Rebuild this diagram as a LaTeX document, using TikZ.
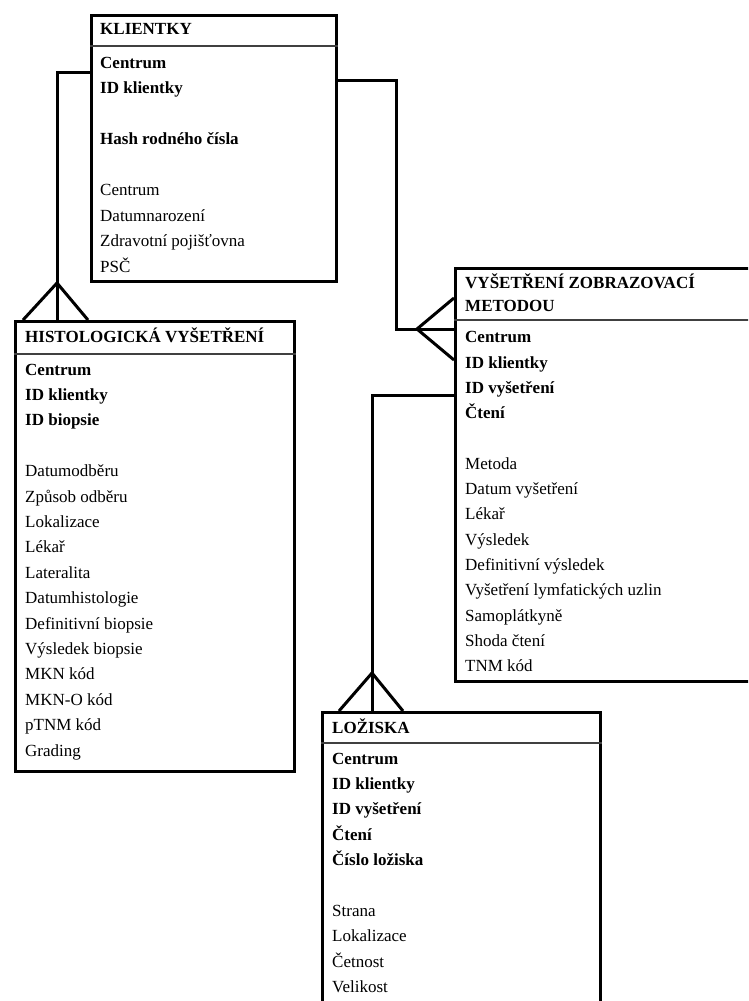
\documentclass[tikz,border=0pt]{standalone}
\usepackage{fontspec}
\setmainfont{Liberation Serif}
\begin{document}
\begin{tikzpicture}[x=1pt,y=-1pt,
  entity/.style={draw, line width=3pt, fill=white, inner sep=0pt, anchor=north west},
  divider/.style={line width=1.3pt, black!75},
  link/.style={line width=3pt},
  ttl/.style={anchor=base west, inner sep=0pt, font=\fontsize{17}{20}\selectfont\bfseries},
  keyf/.style={anchor=base west, inner sep=0pt, font=\fontsize{17}{20}\selectfont\bfseries},
  attr/.style={anchor=base west, inner sep=0pt, font=\fontsize{17}{20}\selectfont}]
\useasboundingbox (0,0) rectangle (748,1001);
\clip (0,0) rectangle (748,1001);
\fill[white] (0,0) rectangle (748,1001);

% entity boxes
\node[entity, minimum width=245pt, minimum height=266.5pt] (klientky) at (90,13.5) {};
\node[entity, minimum width=279pt, minimum height=450pt] (histo) at (14,320) {};
\node[entity, minimum width=330pt, minimum height=413pt] (zobr) at (454,267) {};
\node[entity, minimum width=278pt, minimum height=320pt] (lozisko) at (321,711) {};

% header dividers
\coordinate (dk) at (0,46);
\coordinate (dh) at (0,354);
\coordinate (dz) at (0,320);
\coordinate (dl) at (0,743);
\draw[divider] (klientky.west |- dk) -- (klientky.east |- dk);
\draw[divider] (histo.west |- dh) -- (histo.east |- dh);
\draw[divider] (zobr.west |- dz) -- (zobr.east |- dz);
\draw[divider] (lozisko.west |- dl) -- (lozisko.east |- dl);

% connector KLIENTKY -- HISTOLOGICKA
\coordinate (c1) at (57,72);
\coordinate (c1x) at (57,283);
\coordinate (c1l) at (23,0);
\coordinate (c1r) at (88,0);
\draw[link] (klientky.west |- c1) -- (c1) -- (histo.north -| c1);
\draw[link] (histo.north -| c1l) -- (c1x) -- (histo.north -| c1r);

% connector KLIENTKY -- VYSETRENI ZOBRAZOVACI METODOU
\coordinate (c2a) at (396,80);
\coordinate (c2b) at (396,329);
\coordinate (c2x) at (417,329);
\coordinate (c2u) at (0,298);
\coordinate (c2d) at (0,360);
\draw[link] (klientky.east |- c2a) -- (c2a) -- (c2b) -- (zobr.west |- c2b);
\draw[link] (zobr.west |- c2u) -- (c2x) -- (zobr.west |- c2d);

% connector VYSETRENI -- LOZISKA
\coordinate (c3a) at (372,395);
\coordinate (c3x) at (372,673);
\coordinate (c3l) at (339,0);
\coordinate (c3r) at (403,0);
\draw[link] (zobr.west |- c3a) -- (c3a) -- (lozisko.north -| c3a);
\draw[link] (lozisko.north -| c3l) -- (c3x) -- (lozisko.north -| c3r);

% KLIENTKY texts
\node[ttl]  (kt) at (100,34) {KLIENTKY};
\node[keyf] (k1) at (100,68) {Centrum};
\node[keyf] (k2) at (100,93.5) {ID klientky};
\node[keyf] (k3) at (100,144.5) {Hash rodného čísla};
\node[attr] (k4) at (100,195.5) {Centrum};
\node[attr] (k5) at (100,221) {Datumnarození};
\node[attr] (k6) at (100,246.5) {Zdravotní pojišťovna};
\node[attr] (k7) at (100,272) {PSČ};

% HISTOLOGICKA texts
\node[ttl]  (ht) at (25,342) {HISTOLOGICKÁ VYŠETŘENÍ};
\node[keyf] (h1) at (25,375) {Centrum};
\node[keyf] (h2) at (25,400.4) {ID klientky};
\node[keyf] (h3) at (25,425.8) {ID biopsie};
\node[attr] (h4) at (25,476.6) {Datumodběru};
\node[attr] (h5) at (25,502) {Způsob odběru};
\node[attr] (h6) at (25,527.4) {Lokalizace};
\node[attr] (h7) at (25,552.8) {Lékař};
\node[attr] (h8) at (25,578.2) {Lateralita};
\node[attr] (h9) at (25,603.6) {Datumhistologie};
\node[attr] (h10) at (25,629) {Definitivní biopsie};
\node[attr] (h11) at (25,654.4) {Výsledek biopsie};
\node[attr] (h12) at (25,679.8) {MKN kód};
\node[attr] (h13) at (25,705.2) {MKN-O kód};
\node[attr] (h14) at (25,730.6) {pTNM kód};
\node[attr] (h15) at (25,756) {Grading};

% VYSETRENI ZOBRAZOVACI METODOU texts
\node[ttl]  (zt1) at (465,288) {VYŠETŘENÍ ZOBRAZOVACÍ};
\node[ttl]  (zt2) at (465,311.7) {METODOU};
\node[keyf] (z1) at (465,342.7) {Centrum};
\node[keyf] (z2) at (465,368) {ID klientky};
\node[keyf] (z3) at (465,393.3) {ID vyšetření};
\node[keyf] (z4) at (465,418.6) {Čtení};
\node[attr] (z5) at (465,469.2) {Metoda};
\node[attr] (z6) at (465,494.5) {Datum vyšetření};
\node[attr] (z7) at (465,519.8) {Lékař};
\node[attr] (z8) at (465,545.1) {Výsledek};
\node[attr] (z9) at (465,570.4) {Definitivní výsledek};
\node[attr] (z10) at (465,595.7) {Vyšetření lymfatických uzlin};
\node[attr] (z11) at (465,621) {Samoplátkyně};
\node[attr] (z12) at (465,646.3) {Shoda čtení};
\node[attr] (z13) at (465,671.6) {TNM kód};

% LOZISKA texts
\node[ttl]  (lt) at (332,733) {LOŽISKA};
\node[keyf] (l1) at (332,764) {Centrum};
\node[keyf] (l2) at (332,789.4) {ID klientky};
\node[keyf] (l3) at (332,814.8) {ID vyšetření};
\node[keyf] (l4) at (332,840.2) {Čtení};
\node[keyf] (l5) at (332,865.6) {Číslo ložiska};
\node[attr] (l6) at (332,916.4) {Strana};
\node[attr] (l7) at (332,941.8) {Lokalizace};
\node[attr] (l8) at (332,967.2) {Četnost};
\node[attr] (l9) at (332,992.6) {Velikost};
\end{tikzpicture}
\end{document}
